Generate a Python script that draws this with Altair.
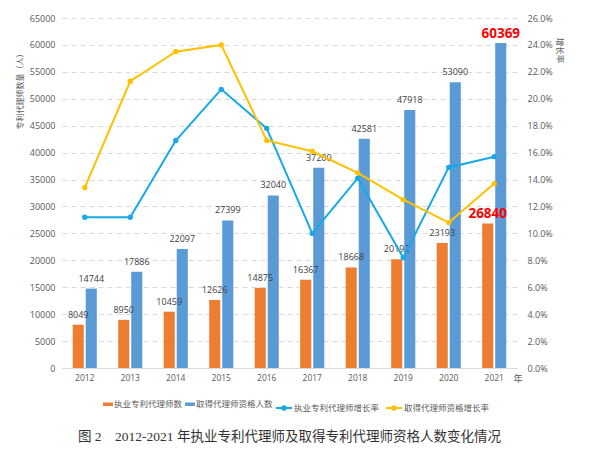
import altair as alt
import pandas as pd

years = ["2012", "2013", "2014", "2015", "2016", "2017", "2018", "2019", "2020", "2021"]
practicing = [8049, 8950, 10459, 12626, 14875, 16367, 18668, 20192, 23193, 26840]
qualified = [14744, 17886, 22097, 27399, 32040, 37200, 42581, 47918, 53090, 60369]
practicing_rate = [0.112, 0.112, 0.169, 0.207, 0.178, 0.100, 0.141, 0.082, 0.149, 0.157]
qualified_rate = [0.134, 0.213, 0.235, 0.240, 0.169, 0.161, 0.145, 0.125, 0.108, 0.137]

bar_series = ["执业专利代理师数", "取得代理师资格人数"]
line_series = ["执业专利代理师增长率", "取得代理师资格增长率"]
bar_colors = ["#ED7D31", "#5B9BD5"]
line_colors = ["#17A9E6", "#FFC000"]
left_ticks = [0, 5000, 10000, 15000, 20000, 25000, 30000, 35000, 40000, 45000, 50000, 55000, 60000, 65000]
right_ticks = [0, 0.02, 0.04, 0.06, 0.08, 0.10, 0.12, 0.14, 0.16, 0.18, 0.20, 0.22, 0.24, 0.26]
highlight_year = "2021"

bars_df = pd.DataFrame(
    [{"year": y, "series": bar_series[0], "value": v} for y, v in zip(years, practicing)]
    + [{"year": y, "series": bar_series[1], "value": v} for y, v in zip(years, qualified)]
)
lines_df = pd.DataFrame(
    [{"year": y, "series": line_series[0], "rate": r} for y, r in zip(years, practicing_rate)]
    + [{"year": y, "series": line_series[1], "rate": r} for y, r in zip(years, qualified_rate)]
)

NUM_FONT = "Open Sans"
CJK_FONT = "Noto Sans CJK SC"
GRAY = "#595959"

x_enc = alt.X(
    "year:N",
    sort=years,
    scale=alt.Scale(paddingInner=0.47, paddingOuter=0.235),
    axis=alt.Axis(
        title="年", titleAngle=0, titleX=451, titleY=10, titleAlign="left",
        titleBaseline="middle", titleFont=CJK_FONT, titleFontSize=9,
        titleFontWeight="normal", titleColor=GRAY,
        labelAngle=0, labelFont=NUM_FONT, labelFontSize=8.5, labelColor=GRAY,
        labelPadding=5, ticks=False, domainColor="#D9D9D9", domainWidth=1, grid=False,
    ),
)
x_off = alt.XOffset("series:N", sort=bar_series, scale=alt.Scale(paddingInner=0.15))
y_left = alt.Y(
    "value:Q",
    scale=alt.Scale(domain=[0, 65000], nice=False, zero=True),
    axis=alt.Axis(
        values=left_ticks, format="d", title="专利代理师数量（人）",
        titleX=-42, titleY=71, titleAlign="center", titleBaseline="middle",
        titleFont=CJK_FONT, titleFontSize=8, titleFontWeight="normal", titleColor=GRAY,
        labelFont=NUM_FONT, labelFontSize=9, labelColor=GRAY, labelPadding=7,
        labelOverlap=False, labelFlush=False,
        ticks=False, domain=False, grid=True, gridColor="#D9D9D9", gridDash=[5, 4],
    ),
)

bars = alt.Chart(bars_df).mark_bar().encode(
    x=x_enc,
    xOffset=x_off,
    y=y_left,
    color=alt.Color(
        "series:N",
        sort=bar_series,
        scale=alt.Scale(domain=bar_series, range=bar_colors),
        legend=alt.Legend(
            orient="none", legendX=41, legendY=381, direction="horizontal", title=None,
            symbolType="M-1,-0.35H1V0.35H-1Z", symbolSize=100, symbolStrokeWidth=0,
            labelFont=CJK_FONT, labelFontSize=8.5, labelColor=GRAY, labelOffset=1,
            columnPadding=2,
        ),
    ),
)

labels = alt.Chart(bars_df).transform_filter(
    alt.datum.year != highlight_year
).mark_text(baseline="bottom", dy=-5, font=NUM_FONT, fontSize=9, color="#404040").encode(
    x=x_enc,
    xOffset=x_off,
    y=y_left,
    text=alt.Text("value:Q", format="d"),
)
labels_hi = alt.Chart(bars_df).transform_filter(
    alt.datum.year == highlight_year
).mark_text(baseline="bottom", dy=-2, font=NUM_FONT, fontSize=13.5, fontWeight="bold", color="#FF0000").encode(
    x=x_enc,
    xOffset=x_off,
    y=y_left,
    text=alt.Text("value:Q", format="d"),
)

left = alt.layer(bars, labels, labels_hi)

y_right = alt.Y(
    "rate:Q",
    scale=alt.Scale(domain=[0, 0.26], nice=False),
    axis=alt.Axis(
        orient="right", values=right_ticks, format=".1%", title="增长率",
        titleAngle=90, titleX=42, titleY=32, titleAlign="center", titleBaseline="middle",
        titleFont=CJK_FONT, titleFontSize=8.5, titleFontWeight="normal", titleColor=GRAY,
        labelFont=NUM_FONT, labelFontSize=9, labelColor=GRAY, labelPadding=10,
        labelOverlap=False, labelFlush=False,
        ticks=False, domain=False, grid=False,
    ),
)
line_color = alt.Color(
    "series:N",
    sort=line_series,
    scale=alt.Scale(domain=line_series, range=line_colors),
    legend=alt.Legend(
        orient="none", legendX=213, legendY=381, direction="horizontal", title=None,
        symbolType="M-1,0H1M-0.22,0A0.22,0.22,0,1,0,0.22,0A0.22,0.22,0,1,0,-0.22,0",
        symbolSize=256, symbolStrokeWidth=2,
        labelFont=CJK_FONT, labelFontSize=8.5, labelColor=GRAY, labelOffset=1,
        columnPadding=2,
    ),
)
lines = alt.Chart(lines_df).mark_line(strokeWidth=2).encode(
    x=x_enc, y=y_right, color=line_color,
)
points = alt.Chart(lines_df).mark_circle(size=28, opacity=1).encode(
    x=x_enc, y=y_right, color=line_color,
)
right = alt.layer(lines, points)

chart = alt.layer(left, right).resolve_scale(y="independent", color="independent").properties(
    width=455,
    height=350,
    padding={"left": 54, "top": 10, "right": 69, "bottom": 78},
    autosize=alt.AutoSizeParams(type="none"),
    title=alt.TitleParams(
        "图 2　2012-2021 年执业专利代理师及取得专利代理师资格人数变化情况",
        orient="bottom", anchor="middle", font="Liberation Serif, Noto Sans CJK SC",
        fontSize=13.5, fontWeight="normal", color="#333333", offset=16,
    ),
).configure(background="white").configure_view(strokeWidth=0, stroke="transparent")

chart.save("out.html", embed_options={"renderer": "svg", "actions": False})
